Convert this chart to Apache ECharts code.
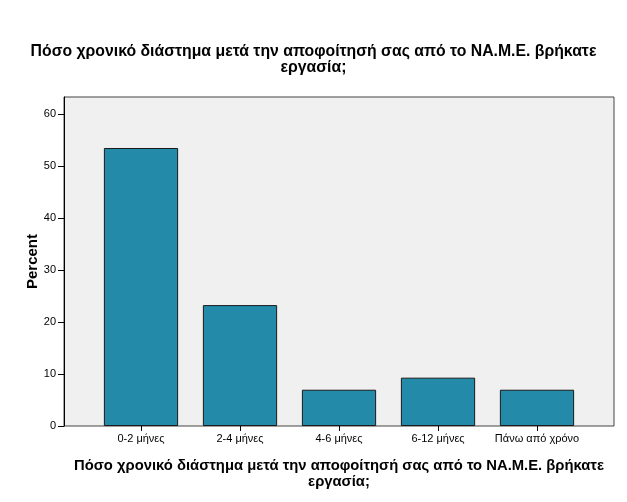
<!DOCTYPE html>
<html><head><meta charset="utf-8">
<script src="https://cdn.jsdelivr.net/npm/echarts@6/dist/echarts.min.js"></script>
<style>html,body{margin:0;padding:0;background:#fff}#c{width:627px;height:502px}</style>
</head><body><div id="c"></div>
<script>
const categories = ['0-2 μήνες', '2-4 μήνες', '4-6 μήνες', '6-12 μήνες', 'Πάνω από χρόνο'];
const percentValues = [53.49, 23.26, 6.98, 9.30, 6.98];
const yTicks = [0, 10, 20, 30, 40, 50, 60];
const titleText = 'Πόσο χρονικό διάστημα μετά την αποφοίτησή σας από το ΝΑ.Μ.Ε. βρήκατε\nεργασία;';
const xName = 'Πόσο χρονικό διάστημα μετά την αποφοίτησή σας από το ΝΑ.Μ.Ε. βρήκατε\nεργασία;';

const chart = echarts.init(document.getElementById('c'), null, {renderer: 'canvas'});
const font = 'Liberation Sans, Arial, sans-serif';
const yMax = 63.3;
chart.setOption({
  animation: false,
  textStyle: {fontFamily: font},
  title: {
    text: titleText, left: 'center', top: 39,
    textStyle: {fontSize: 15.8, fontWeight: 'bold', color: '#000', lineHeight: 16, fontFamily: font}
  },
  grid: [
    {left: 64, right: 13, top: 97, bottom: 76, show: true, backgroundColor: '#f0f0f0', borderColor: '#444', borderWidth: 1},
    {left: 91.5, right: 40.5, top: 97, bottom: 76}
  ],
  xAxis: [
    {gridIndex: 0, type: 'value', min: 0, max: 1, show: false},
    {gridIndex: 1, type: 'category', data: categories,
     axisLine: {show: false},
     axisTick: {show: true, alignWithLabel: true, length: 5, lineStyle: {color: '#000'}},
     axisLabel: {interval: 0, fontSize: 11, color: '#000', margin: 7, fontFamily: font},
     name: xName, nameLocation: 'middle', nameGap: 32,
     nameTextStyle: {fontSize: 14.8, fontWeight: 'bold', color: '#000', lineHeight: 16, fontFamily: font}
    }
  ],
  yAxis: [
    {gridIndex: 0, type: 'value', min: 0, max: yMax, interval: 10,
     splitLine: {show: false},
     axisLine: {show: true, lineStyle: {color: '#000'}},
     axisTick: {show: true, length: 6, lineStyle: {color: '#000'}, customValues: yTicks},
     axisLabel: {fontSize: 11, color: '#000', margin: 8, customValues: yTicks, fontFamily: font},
     name: 'Percent', nameLocation: 'middle', nameGap: 24, nameMoveOverlap: false,
     nameTextStyle: {fontSize: 15, fontWeight: 'bold', color: '#000', fontFamily: font}
    },
    {gridIndex: 1, type: 'value', min: 0, max: yMax, show: false, splitLine: {show: false}}
  ],
  series: [{
    type: 'bar', xAxisIndex: 1, yAxisIndex: 1, data: percentValues,
    barCategoryGap: '25%',
    itemStyle: {color: '#248aa9', borderColor: '#1a1a1a', borderWidth: 1}
  }]
});
</script></body></html>
